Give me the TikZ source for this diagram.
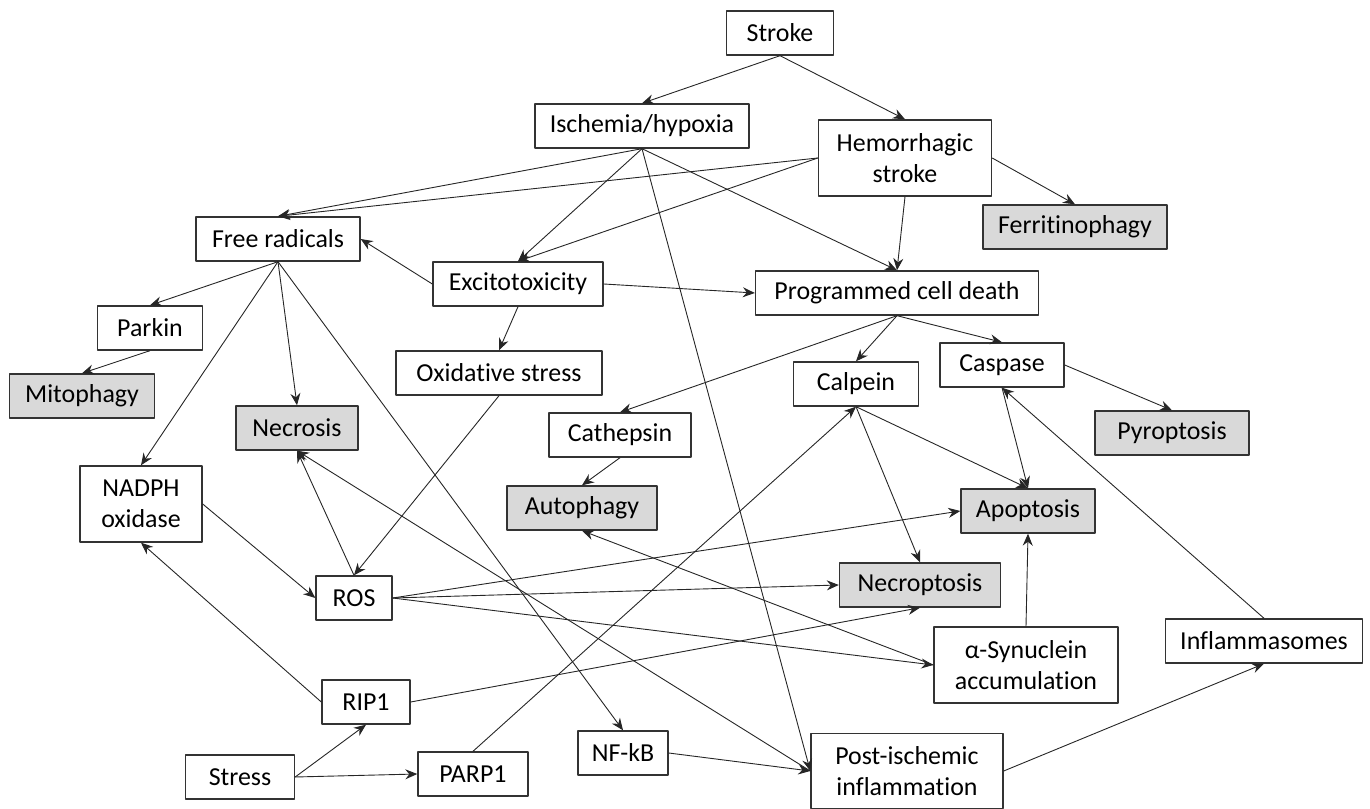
\documentclass[tikz,border=0pt]{standalone}
\usepackage{fontspec}
\setmainfont{Carlito}[Ligatures={NoCommon,NoContextual},RawFeature={-liga,-clig,-calt,-dlig}]
\usetikzlibrary{arrows.meta}

\begin{document}
\begin{tikzpicture}[>={Stealth[length=6bp,width=5bp,inset=2bp]},line join=bevel,
  box/.style={draw=black!80,line width=0.7bp,fill=white,inner sep=0pt,
    minimum height=22bp,align=center,font=\fontsize{13}{15.5}\selectfont},
  shaded/.style={box,fill=black!15},
  link/.style={->,line width=0.45bp,draw=black!85}]
  \useasboundingbox (0bp,0bp) rectangle (685bp,404.5bp);
%%
  % Node: stroke
  \node[box,minimum width=53.5bp] (stroke) at (390bp,388bp) {Stroke};
  % Node: isch
  \node[box,minimum width=107bp] (isch) at (321bp,341.5bp) {Ischemia/hypoxia};
  % Node: hemo
  \node[box,minimum width=86.5bp,minimum height=38bp] (hemo) at (452.5bp,325.5bp) {Hemorrhagic\\stroke};
  % Node: ferri
  \node[shaded,minimum width=92bp] (ferri) at (537.5bp,291bp) {Ferritinophagy};
  % Node: freerad
  \node[box,minimum width=82bp] (freerad) at (139bp,285bp) {Free radicals};
  % Node: excito
  \node[box,minimum width=85bp] (excito) at (259bp,262.5bp) {Excitotoxicity};
  % Node: pcd
  \node[box,minimum width=141.5bp] (pcd) at (448.5bp,258bp) {Programmed cell death};
  % Node: parkin
  \node[box,minimum width=52.5bp] (parkin) at (75bp,240.5bp) {Parkin};
  % Node: mito
  \node[shaded,minimum width=72.5bp] (mito) at (41bp,206.5bp) {Mitophagy};
  % Node: oxstress
  \node[box,minimum width=103bp] (oxstress) at (249.5bp,218bp) {Oxidative stress};
  % Node: calpein
  \node[box,minimum width=62.5bp] (calpein) at (428bp,212.5bp) {Calpein};
  % Node: caspase
  \node[box,minimum width=62bp] (caspase) at (501bp,222bp) {Caspase};
  % Node: necrosis
  \node[shaded,minimum width=61bp] (necrosis) at (148.5bp,190.5bp) {Necrosis};
  % Node: cathepsin
  \node[box,minimum width=71bp] (cathepsin) at (310bp,187bp) {Cathepsin};
  % Node: pyro
  \node[shaded,minimum width=77bp] (pyro) at (586bp,188bp) {Pyroptosis};
  % Node: nadph
  \node[box,minimum width=61bp,minimum height=38bp] (nadph) at (70.5bp,152.5bp) {NADPH\\oxidase};
  % Node: autophagy
  \node[shaded,minimum width=75bp] (autophagy) at (291bp,150.5bp) {Autophagy};
  % Node: apoptosis
  \node[shaded,minimum width=67bp] (apoptosis) at (514bp,149bp) {Apoptosis};
  % Node: ros
  \node[box,minimum width=38bp] (ros) at (177bp,105.5bp) {ROS};
  % Node: necroptosis
  \node[shaded,minimum width=80.5bp] (necroptosis) at (460bp,112bp) {Necroptosis};
  % Node: asyn
  \node[box,minimum width=92bp,minimum height=38bp] (asyn) at (513bp,72bp) {α-Synuclein\\accumulation};
  % Node: inflamm
  \node[box,minimum width=98.5bp] (inflamm) at (632bp,84bp) {Inflammasomes};
  % Node: rip1
  \node[box,minimum width=44bp] (rip1) at (183bp,53.5bp) {RIP1};
  % Node: stress
  \node[box,minimum width=54.5bp] (stress) at (120bp,16bp) {Stress};
  % Node: parp1
  \node[box,minimum width=55bp] (parp1) at (236.5bp,17.5bp) {PARP1};
  % Node: nfkb
  \node[box,minimum width=45bp] (nfkb) at (311.5bp,28bp) {NF-kB};
  % Node: postisch
  \node[box,minimum width=96bp,minimum height=37.5bp] (postisch) at (453.5bp,19bp) {Post-ischemic\\inflammation};
%%
  % Edge: stroke -> isch, hemo
  \draw[link] (stroke.south) -- (isch.north);
  \draw[link] (stroke.south) -- (hemo.north);
  % Edge: isch -> freerad, excito, pcd, postisch
  \draw[link] (isch.south) -- (freerad.north);
  \draw[link] (isch.south) -- (excito.north);
  \draw[link] (isch.south) -- (pcd.north);
  \draw[link] (isch.south) -- (postisch.west);
  % Edge: hemo -> freerad, excito, ferri, pcd
  \draw[link] (hemo.west) -- (freerad.north);
  \draw[link] (hemo.west) -- (excito.north);
  \draw[link] (hemo.east) -- (ferri.north);
  \draw[link] (hemo.south) -- (pcd.north);
  % Edge: excito -> freerad, pcd, oxstress
  \draw[link] (excito.west) -- (freerad.east);
  \draw[link] (excito.east) -- (pcd.west);
  \draw[link] (excito.south) -- (oxstress.north);
  % Edge: freerad -> parkin, nadph, necrosis, nfkb
  \draw[link] (freerad.south) -- (parkin.north);
  \draw[link] (freerad.south) -- (nadph.north);
  \draw[link] (freerad.south) -- (necrosis.north);
  \draw[link] (freerad.south) -- (nfkb.north);
  % Edge: parkin -> mito
  \draw[link] (parkin.south) -- (mito.north);
  % Edge: oxstress -> ros
  \draw[link] (oxstress.south) -- (ros.north);
  % Edge: pcd -> calpein, caspase, cathepsin
  \draw[link] (pcd.south) -- (calpein.north);
  \draw[link] (pcd.south) -- (caspase.north);
  \draw[link] (pcd.south) -- (cathepsin.north);
  % Edge: cathepsin -> autophagy
  \draw[link] (cathepsin.south) -- (autophagy.north);
  % Edge: caspase -> pyro, apoptosis
  \draw[link] (caspase.east) -- (pyro.north);
  \draw[link] (caspase.south) -- (apoptosis.north);
  % Edge: calpein -> apoptosis, necroptosis
  \draw[link] (calpein.south) -- (apoptosis.north);
  \draw[link] (calpein.south) -- (necroptosis.north);
  % Edge: parp1 -> calpein
  \draw[link] (parp1.north) -- (calpein.south);
  % Edge: inflamm -> caspase
  \draw[link] (inflamm.north) -- (caspase.south);
  % Edge: nadph -> ros
  \draw[link] (nadph.east) -- (ros.west);
  % Edge: ros -> necrosis, apoptosis, necroptosis, asyn
  \draw[link] (ros.north) -- (necrosis.south);
  \draw[link] (ros.east) -- (apoptosis.west);
  \draw[link] (ros.east) -- (necroptosis.west);
  \draw[link] (ros.east) -- (asyn.west);
  % Edge: asyn -> autophagy, apoptosis
  \draw[link] (asyn.west) -- (autophagy.south);
  \draw[link] (asyn.north) -- (apoptosis.south);
  % Edge: rip1 -> nadph, necroptosis
  \draw[link] (rip1.west) -- (nadph.south);
  \draw[link] (rip1.east) -- (necroptosis.south);
  % Edge: stress -> rip1, parp1
  \draw[link] (stress.east) -- (rip1.south);
  \draw[link] (stress.east) -- (parp1.west);
  % Edge: nfkb -> postisch
  \draw[link] (nfkb.east) -- (postisch.west);
  % Edge: postisch -> necrosis, inflamm
  \draw[link] (postisch.west) -- (necrosis.south);
  \draw[link] (postisch.east) -- (inflamm.south);
%
\end{tikzpicture}
\end{document}
